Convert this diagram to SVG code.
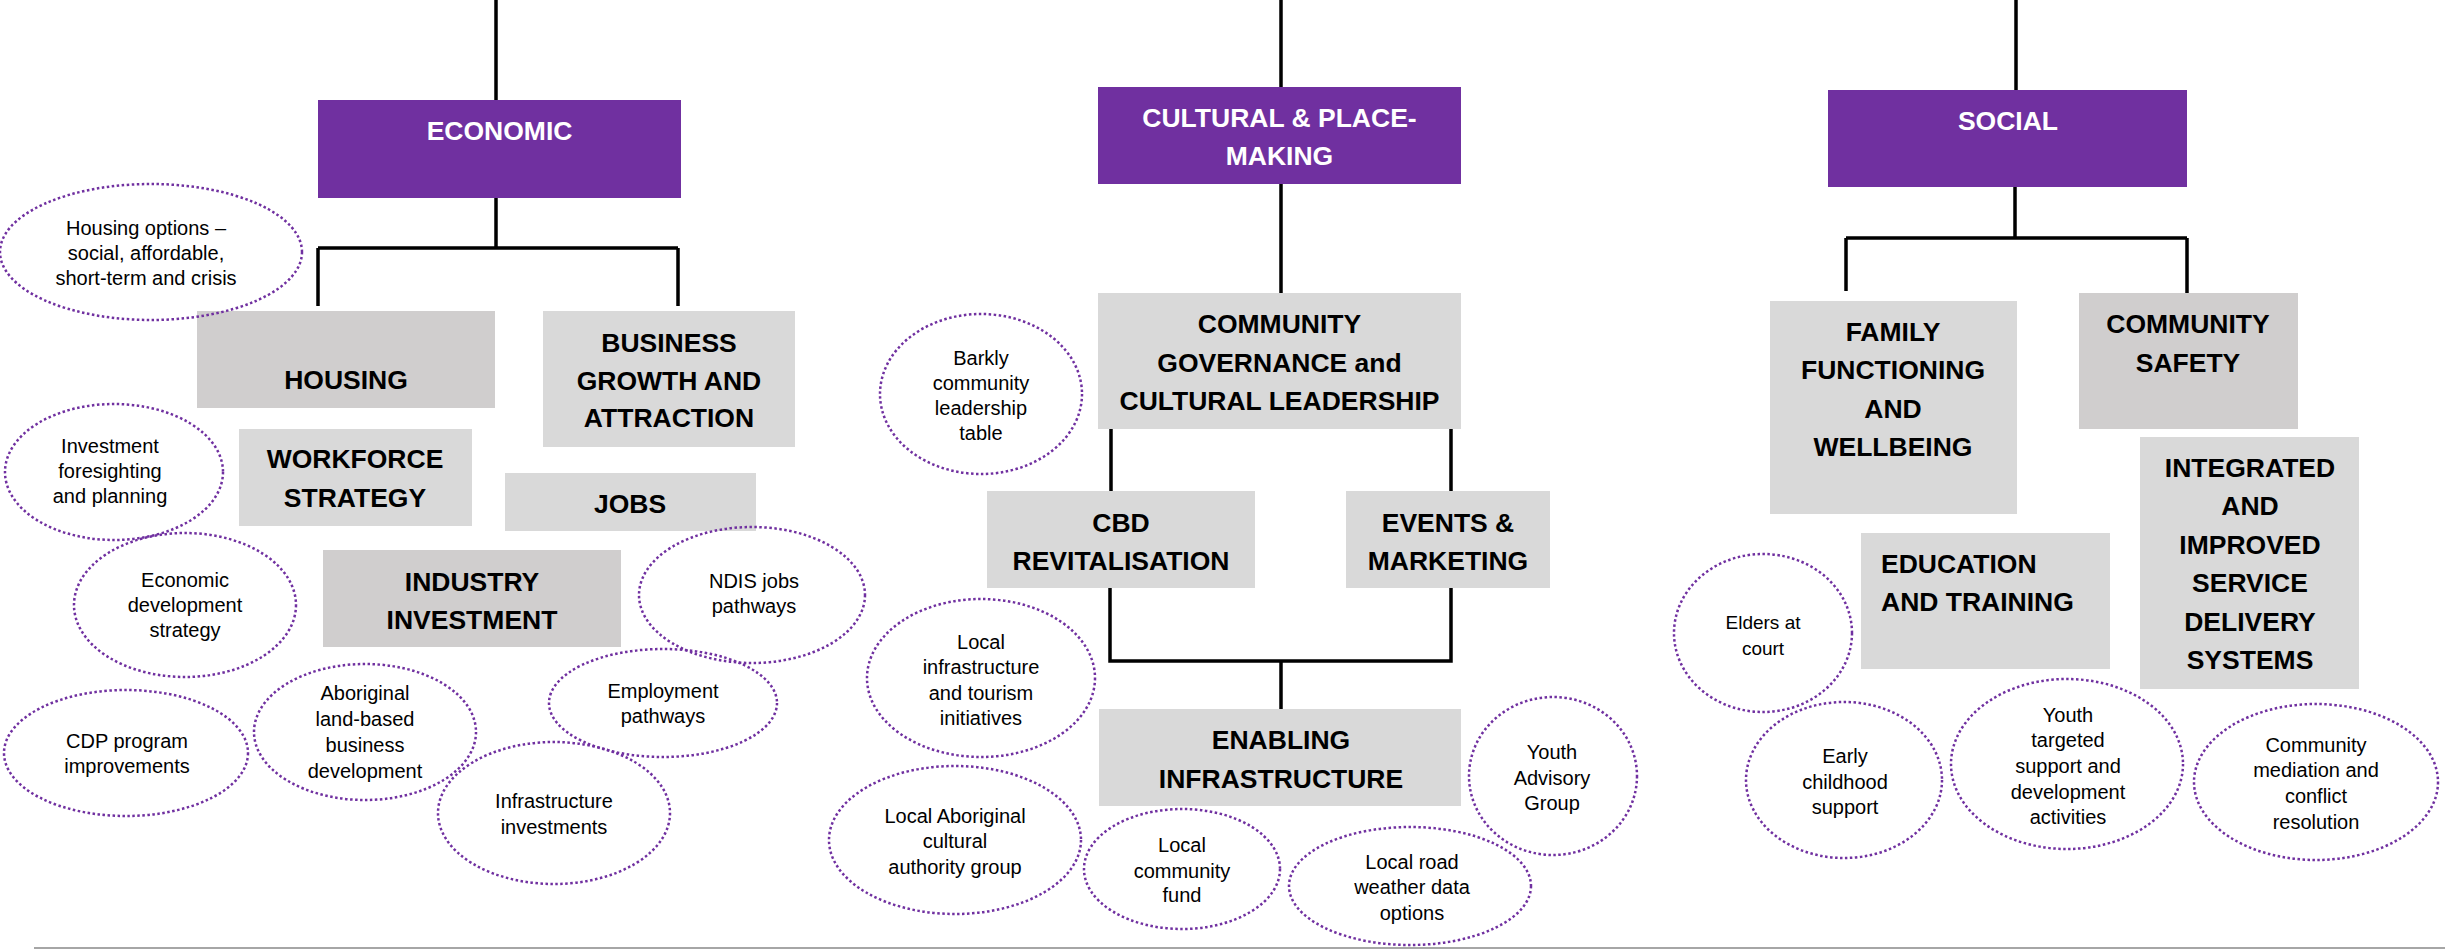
<svg xmlns="http://www.w3.org/2000/svg" width="2445" height="951" viewBox="0 0 2445 951">
<style>
.hdr{fill:#7030A0}
.lt{fill:#D9D9D9}
.dk{fill:#D0CECE}
.ht{font-family:"Liberation Sans",Arial,sans-serif;font-weight:bold;font-size:26.5px;fill:#FFFFFF;text-anchor:middle}
.bt{font-family:"Liberation Sans",Arial,sans-serif;font-weight:bold;font-size:26.5px;fill:#000000;text-anchor:middle}
.bl{font-family:"Liberation Sans",Arial,sans-serif;font-weight:bold;font-size:26.5px;fill:#000000;text-anchor:start}
.st{font-family:"Liberation Sans",Arial,sans-serif;font-size:20px;fill:#000000;text-anchor:middle}
.el{fill:none;stroke:#7030A0;stroke-width:2.5;stroke-dasharray:2.5 2.5}
.cn{fill:none;stroke:#000000;stroke-width:3.5}
</style>
<rect width="2445" height="951" fill="#FFFFFF"/>
<g id="connectors">
<path class="cn" d="M496,0 V100 M496,198 V248 M318,248 H678 M318,248 V306 M678,248 V306"/>
<path class="cn" d="M1281,0 V87 M1281,184 V293 M1111,429 V491 M1451,429 V491 M1110,588 V661 H1451 V588 M1281,661 V709"/>
<path class="cn" d="M2016,0 V90 M2015,187 V238 M1846,238 H2187 M1846,238 V291 M2187,238 V293"/>
</g>
<line x1="34" y1="948" x2="2445" y2="948" stroke="#A6A6A6" stroke-width="2"/>
<g id="economic"><rect class="hdr" x="318" y="100" width="363" height="98"/><text class="ht" x="499.5" y="140">ECONOMIC</text></g>
<g id="cultural"><rect class="hdr" x="1098" y="87" width="363" height="97"/><text class="ht" x="1279.5" y="127">CULTURAL &amp; PLACE-</text><text class="ht" x="1279.5" y="165">MAKING</text></g>
<g id="social"><rect class="hdr" x="1828" y="90" width="359" height="97"/><text class="ht" x="2008" y="130">SOCIAL</text></g>
<g id="housing"><rect class="dk" x="197" y="311" width="298" height="97"/><text class="bt" x="346" y="389">HOUSING</text></g>
<g id="business"><rect class="lt" x="543" y="311" width="252" height="136"/><text class="bt" x="669" y="352">BUSINESS</text><text class="bt" x="669" y="390">GROWTH AND</text><text class="bt" x="669" y="427">ATTRACTION</text></g>
<g id="workforce"><rect class="lt" x="239" y="429" width="233" height="97"/><text class="bt" x="355" y="468">WORKFORCE</text><text class="bt" x="355" y="507">STRATEGY</text></g>
<g id="jobs"><rect class="lt" x="505" y="473" width="251" height="58"/><text class="bt" x="630" y="513">JOBS</text></g>
<g id="industry"><rect class="dk" x="323" y="550" width="298" height="97"/><text class="bt" x="472" y="591">INDUSTRY</text><text class="bt" x="472" y="629">INVESTMENT</text></g>
<g id="governance"><rect class="lt" x="1098" y="293" width="363" height="136"/><text class="bt" x="1279.5" y="333">COMMUNITY</text><text class="bt" x="1279.5" y="372">GOVERNANCE and</text><text class="bt" x="1279.5" y="410">CULTURAL LEADERSHIP</text></g>
<g id="cbd"><rect class="lt" x="987" y="491" width="268" height="97"/><text class="bt" x="1121" y="532">CBD</text><text class="bt" x="1121" y="570">REVITALISATION</text></g>
<g id="events"><rect class="lt" x="1346" y="491" width="204" height="97"/><text class="bt" x="1448" y="532">EVENTS &amp;</text><text class="bt" x="1448" y="570">MARKETING</text></g>
<g id="enabling"><rect class="lt" x="1099" y="709" width="362" height="97"/><text class="bt" x="1281" y="749">ENABLING</text><text class="bt" x="1281" y="788">INFRASTRUCTURE</text></g>
<g id="family"><rect class="lt" x="1770" y="301" width="247" height="213"/><text class="bt" x="1893" y="341">FAMILY</text><text class="bt" x="1893" y="379">FUNCTIONING</text><text class="bt" x="1893" y="418">AND</text><text class="bt" x="1893" y="456">WELLBEING</text></g>
<g id="safety"><rect class="dk" x="2079" y="293" width="219" height="136"/><text class="bt" x="2188" y="333">COMMUNITY</text><text class="bt" x="2188" y="372">SAFETY</text></g>
<g id="integrated"><rect class="lt" x="2140" y="437" width="219" height="252"/><text class="bt" x="2250" y="477">INTEGRATED</text><text class="bt" x="2250" y="515">AND</text><text class="bt" x="2250" y="554">IMPROVED</text><text class="bt" x="2250" y="592">SERVICE</text><text class="bt" x="2250" y="631">DELIVERY</text><text class="bt" x="2250" y="669">SYSTEMS</text></g>
<g id="education"><rect class="lt" x="1861" y="533" width="249" height="136"/><text class="bl" x="1881" y="573">EDUCATION</text><text class="bl" x="1881" y="611">AND TRAINING</text></g>
<g id="housing-options"><ellipse class="el" cx="151" cy="252" rx="151" ry="68"/><text class="st" x="146" y="235">Housing options –</text><text class="st" x="146" y="260">social, affordable,</text><text class="st" x="146" y="285">short-term and crisis</text></g>
<g id="investment-foresighting"><ellipse class="el" cx="114" cy="472" rx="109" ry="68"/><text class="st" x="110" y="453">Investment</text><text class="st" x="110" y="478">foresighting</text><text class="st" x="110" y="503">and planning</text></g>
<g id="economic-development"><ellipse class="el" cx="185" cy="605" rx="111" ry="72"/><text class="st" x="185" y="587">Economic</text><text class="st" x="185" y="612">development</text><text class="st" x="185" y="637">strategy</text></g>
<g id="ndis"><ellipse class="el" cx="752" cy="595" rx="113" ry="68"/><text class="st" x="754" y="588">NDIS jobs</text><text class="st" x="754" y="613">pathways</text></g>
<g id="employment"><ellipse class="el" cx="663" cy="703" rx="114" ry="54"/><text class="st" x="663" y="698">Employment</text><text class="st" x="663" y="723">pathways</text></g>
<g id="cdp"><ellipse class="el" cx="126" cy="753" rx="122" ry="63"/><text class="st" x="127" y="748">CDP program</text><text class="st" x="127" y="773">improvements</text></g>
<g id="aboriginal-land"><ellipse class="el" cx="365" cy="732" rx="111" ry="68"/><text class="st" x="365" y="700">Aboriginal</text><text class="st" x="365" y="726">land-based</text><text class="st" x="365" y="752">business</text><text class="st" x="365" y="778">development</text></g>
<g id="infrastructure-investments"><ellipse class="el" cx="554" cy="813" rx="116" ry="71"/><text class="st" x="554" y="808">Infrastructure</text><text class="st" x="554" y="834">investments</text></g>
<g id="barkly"><ellipse class="el" cx="981" cy="394" rx="101" ry="80"/><text class="st" x="981" y="365">Barkly</text><text class="st" x="981" y="390">community</text><text class="st" x="981" y="415">leadership</text><text class="st" x="981" y="440">table</text></g>
<g id="local-infrastructure"><ellipse class="el" cx="981" cy="678" rx="114" ry="79"/><text class="st" x="981" y="649">Local</text><text class="st" x="981" y="674">infrastructure</text><text class="st" x="981" y="700">and tourism</text><text class="st" x="981" y="725">initiatives</text></g>
<g id="local-aboriginal"><ellipse class="el" cx="955" cy="840" rx="126" ry="74"/><text class="st" x="955" y="823">Local Aboriginal</text><text class="st" x="955" y="848">cultural</text><text class="st" x="955" y="874">authority group</text></g>
<g id="community-fund"><ellipse class="el" cx="1182" cy="869" rx="98" ry="60"/><text class="st" x="1182" y="852">Local</text><text class="st" x="1182" y="878">community</text><text class="st" x="1182" y="902">fund</text></g>
<g id="road-weather"><ellipse class="el" cx="1410" cy="886" rx="121" ry="59"/><text class="st" x="1412" y="869">Local road</text><text class="st" x="1412" y="894">weather data</text><text class="st" x="1412" y="920">options</text></g>
<g id="youth-advisory"><ellipse class="el" cx="1553" cy="776" rx="84" ry="79"/><text class="st" x="1552" y="759">Youth</text><text class="st" x="1552" y="785">Advisory</text><text class="st" x="1552" y="810">Group</text></g>
<g id="elders"><ellipse class="el" cx="1763" cy="633" rx="89" ry="79"/><text class="st" x="1763" y="629" style="font-size:19px">Elders at</text><text class="st" x="1763" y="655" style="font-size:19px">court</text></g>
<g id="early-childhood"><ellipse class="el" cx="1844" cy="780" rx="98" ry="78"/><text class="st" x="1845" y="763">Early</text><text class="st" x="1845" y="789">childhood</text><text class="st" x="1845" y="814">support</text></g>
<g id="youth-targeted"><ellipse class="el" cx="2067" cy="764" rx="116" ry="85"/><text class="st" x="2068" y="722">Youth</text><text class="st" x="2068" y="747">targeted</text><text class="st" x="2068" y="773">support and</text><text class="st" x="2068" y="799">development</text><text class="st" x="2068" y="824">activities</text></g>
<g id="community-mediation"><ellipse class="el" cx="2316" cy="782" rx="122" ry="78"/><text class="st" x="2316" y="752">Community</text><text class="st" x="2316" y="777">mediation and</text><text class="st" x="2316" y="803">conflict</text><text class="st" x="2316" y="829">resolution</text></g>
</svg>
